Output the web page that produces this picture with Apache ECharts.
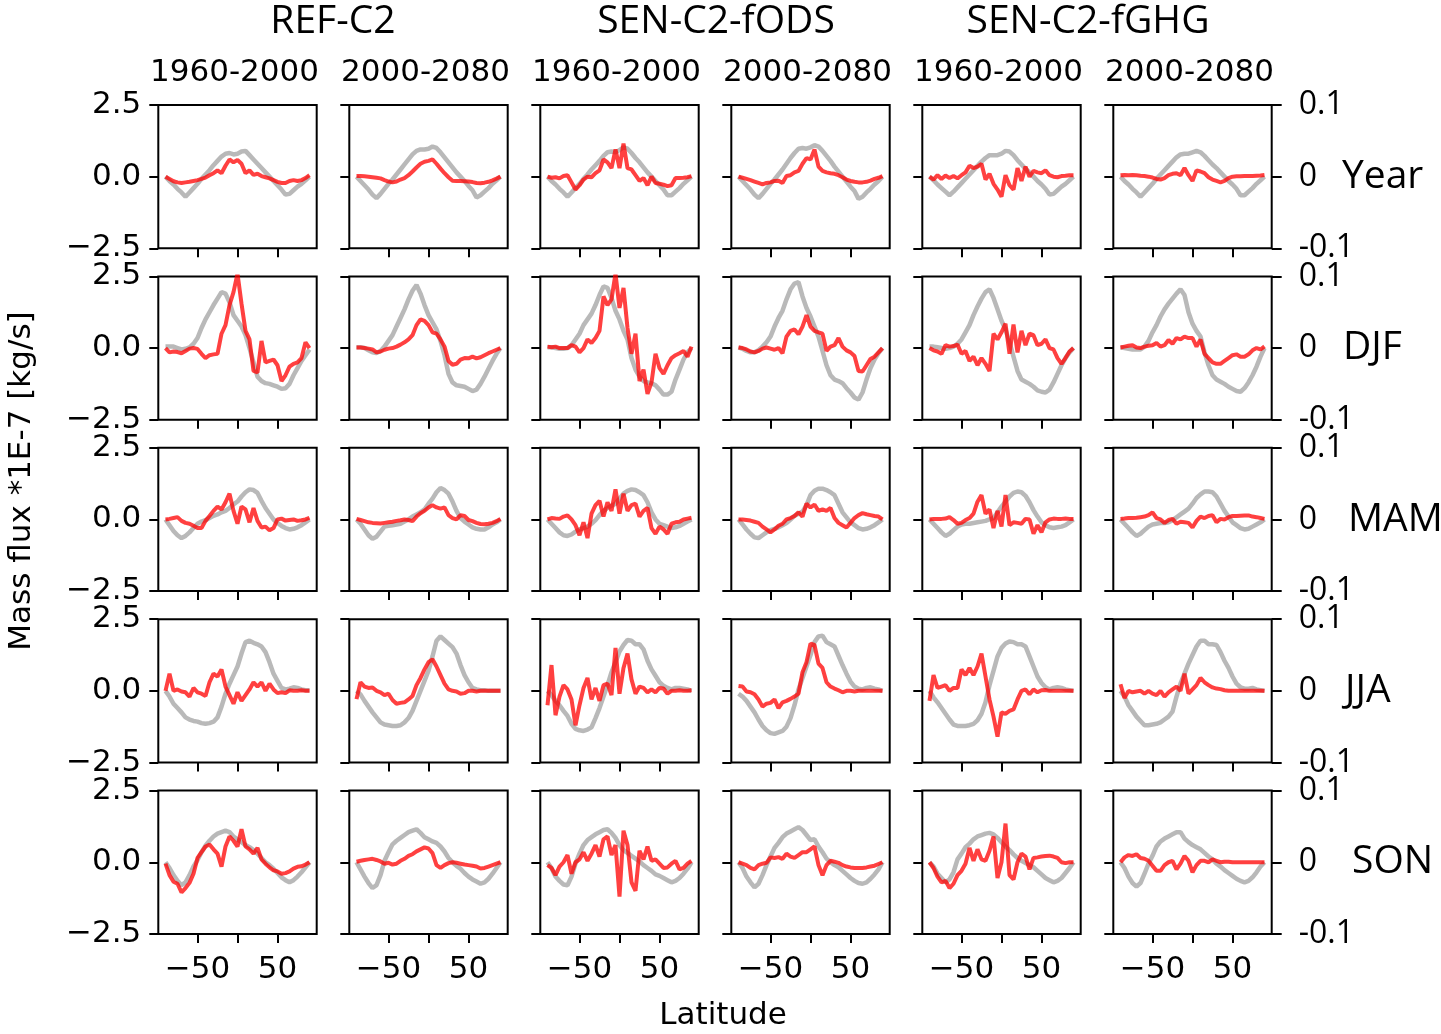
<!DOCTYPE html>
<html>
<head>
<meta charset="utf-8">
<title>Mass flux trends</title>
<script src="https://cdn.jsdelivr.net/npm/echarts@6.0.0/dist/echarts.min.js"></script>
<style>
  html, body { margin: 0; padding: 0; background: #fff; }
  #chart { width: 1441px; height: 1034px; }
</style>
</head>
<body>
<div id="chart"></div>
<script>
// latitude of each sample (deg)
const lats = [-90, -85, -80, -75, -70, -65, -60, -55, -50, -45, -40, -35, -30, -25, -20, -15, -10, -5, 0,
  5, 10, 15, 20, 25, 30, 35, 40, 45, 50, 55, 60, 65, 70, 75, 80, 85, 90]

const experiments = ['REF-C2', 'SEN-C2-fODS', 'SEN-C2-fGHG']
const periods = ['1960-2000', '2000-2080']
const seasons = ['Year', 'DJF', 'MAM', 'JJA', 'SON']
const leftTicks = [-2.5, 0, 2.5]
const rightTicks = [-0.1, 0, 0.1]
const latTicks = [-50, 0, 50]
const latLabels = [-50, 50]

// grey: climatology (right axis), red: trend (left axis); one array per column
const yearGray = [
  [0,-.006,-.011,-.017,-.022,-.028,-.022,-.016,-.010,-.003,.003,.009,.016,.022,.028,.032,.033,.031,.032,.035,.036,.030,.024,.018,.012,.006,0,-.006,-.012,-.018,-.025,-.024,-.019,-.014,-.010,-.005,0],
  [0,-.006,-.012,-.018,-.025,-.030,-.024,-.017,-.010,-.004,.003,.010,.017,.024,.031,.036,.038,.038,.039,.042,.040,.034,.027,.020,.013,.006,0,-.006,-.013,-.019,-.029,-.026,-.021,-.016,-.010,-.005,0],
  [0,-.006,-.011,-.017,-.022,-.028,-.022,-.016,-.010,-.003,.003,.010,.016,.022,.029,.034,.035,.034,.037,.041,.039,.033,.026,.020,.013,.006,0,-.006,-.012,-.018,-.026,-.026,-.021,-.016,-.010,-.005,0],
  [0,-.006,-.012,-.018,-.025,-.030,-.024,-.017,-.010,-.004,.003,.010,.018,.026,.033,.039,.040,.039,.041,.044,.042,.036,.029,.022,.014,.007,0,-.007,-.014,-.020,-.031,-.028,-.022,-.017,-.011,-.006,0],
  [0,-.005,-.011,-.016,-.021,-.026,-.021,-.015,-.009,-.003,.003,.009,.015,.021,.026,.030,.030,.030,.032,.036,.035,.030,.023,.017,.011,.006,0,-.006,-.011,-.017,-.025,-.024,-.019,-.014,-.010,-.005,0],
  [0,-.006,-.011,-.017,-.022,-.028,-.022,-.016,-.010,-.003,.003,.009,.015,.021,.027,.031,.032,.032,.034,.036,.034,.029,.023,.017,.012,.006,0,-.006,-.011,-.017,-.026,-.026,-.021,-.016,-.010,-.005,0]
]
const yearRed = [
  [0,-0.08,-0.16,-0.2,-0.22,-0.2,-0.18,-0.15,-0.12,-0.08,-0.03,0.05,0.12,0.22,0.12,0.38,0.6,0.5,0.58,0.45,0.12,0.22,0.06,0.1,0.02,-0.02,-0.06,-0.12,-0.18,-0.22,-0.22,-0.15,-0.12,-0.15,-0.12,-0.05,0.05],
  [0.02,0.02,0.01,0,-0.02,-0.04,-0.06,-0.12,-0.17,-0.2,-0.17,-0.1,-0.05,0.05,0.18,0.32,0.45,0.52,0.55,0.6,0.45,0.28,0.12,-0.02,-0.14,-0.15,-0.15,-0.16,-0.17,-0.19,-0.22,-0.23,-0.21,-0.18,-0.13,-0.07,0],
  [0,-0.04,-0.02,-0.06,0.02,0.05,-0.2,-0.45,-0.3,-0.1,0,-0.02,0.12,0.22,0.6,0.5,0.3,0.95,0.3,1.15,0.3,0.25,0.05,-0.15,-0.05,-0.3,0,-0.22,-0.25,-0.28,-0.33,-0.3,-0.05,-0.05,-0.04,-0.02,0.02],
  [0,-0.04,-0.08,-0.12,-0.17,-0.22,-0.27,-0.22,-0.2,-0.15,-0.14,-0.22,0.02,0.05,0.15,0.2,0.45,0.65,0.6,0.95,0.35,0.2,0.15,0.12,0.1,0.05,-0.02,-0.1,-0.15,-0.18,-0.2,-0.2,-0.18,-0.14,-0.08,-0.04,0.02],
  [0,-0.1,0.05,-0.08,0.04,-0.05,0.02,-0.06,0.05,0.15,0.38,0.3,0.35,0.45,-0.1,0.1,-0.25,-0.45,-0.7,0.05,-0.3,-0.45,0.3,-0.15,0.35,0,0.2,0.15,0.12,0.22,0.05,0,-0.02,0.02,0.03,0.05,0.05],
  [0.05,0.06,0.05,0.06,0.05,0.03,0.02,0,-0.03,-0.08,-0.1,-0.05,0.05,0.1,0.12,0.05,0.3,0.05,-0.15,0.22,0.18,0.12,-0.02,-0.1,-0.15,-0.2,-0.15,-0.05,0,0.01,0.01,0.02,0.02,0.02,0.03,0.04,0.06]
]

const djfGray = [
  [.002,.002,.002,0,-.002,-.001,.001,.006,.014,.028,.040,.050,.060,.069,.078,.076,.064,.046,.038,.030,.018,0,-.020,-.040,-.046,-.049,-.050,-.052,-.054,-.057,-.056,-.050,-.038,-.028,-.018,-.010,-.002],
  [.001,.001,0,-.003,-.006,-.007,-.004,.002,.010,.018,.030,.042,.054,.068,.080,.088,.076,.060,.046,.036,.026,.010,-.010,-.036,-.048,-.052,-.053,-.054,-.057,-.060,-.058,-.050,-.040,-.029,-.018,-.008,0],
  [.001,.001,0,-.001,-.001,0,.004,.012,.020,.032,.040,.048,.060,.074,.086,.084,.070,.052,.040,.024,.012,-.014,-.030,-.040,-.046,-.048,-.049,-.052,-.058,-.065,-.065,-.061,-.044,-.030,-.016,-.006,0],
  [.001,-.001,-.004,-.006,-.006,-.003,.002,.008,.016,.030,.042,.052,.068,.082,.090,.092,.072,.056,.044,.030,.016,-.004,-.024,-.038,-.044,-.046,-.049,-.056,-.062,-.069,-.072,-.062,-.044,-.028,-.016,-.007,0],
  [.002,.002,.001,0,-.001,0,.002,.006,.012,.022,.032,.046,.058,.069,.078,.082,.070,.054,.038,.026,.008,-.012,-.032,-.044,-.047,-.050,-.054,-.059,-.061,-.062,-.058,-.048,-.036,-.024,-.014,-.006,0],
  [.001,0,-.001,-.002,-.002,-.002,.002,.010,.022,.032,.044,.054,.062,.069,.076,.082,.074,.050,.034,.024,.016,-.006,-.024,-.038,-.044,-.047,-.050,-.054,-.057,-.060,-.061,-.056,-.048,-.038,-.026,-.012,0]
]
const djfRed = [
  [0,-0.15,-0.12,-0.14,-0.18,-0.1,-0.02,0,-0.03,-0.2,-0.35,-0.25,-0.22,-0.2,0.5,0.8,1.5,1.95,2.6,1.55,0.6,0.3,-0.8,-0.85,0.25,-0.5,-0.45,-0.4,-0.6,-1.15,-0.95,-0.65,-0.55,-0.5,-0.35,0.2,0],
  [0.02,0.02,0,-0.02,-0.05,-0.15,-0.12,-0.06,-0.02,0,0.05,0.12,0.2,0.3,0.45,0.8,1.0,0.95,0.8,0.55,0.5,0.3,0.05,-0.45,-0.58,-0.55,-0.4,-0.35,-0.36,-0.3,-0.36,-0.32,-0.25,-0.18,-0.12,-0.06,0],
  [0.05,0.03,0.05,0,0,0,0.1,0.05,-0.15,0,0.3,0.18,0.35,0.6,1.8,1.5,1.7,2.6,1.4,2.1,0.7,-0.2,0.5,-1.15,-0.75,-1.6,-1.2,-0.2,-0.7,-0.9,-0.6,-0.35,-0.25,-0.18,-0.1,-0.3,0.05],
  [0.02,0,-0.05,-0.12,-0.15,-0.1,-0.02,0.02,-0.02,-0.06,0,-0.18,0.4,0.6,0.65,0.48,0.75,1.15,0.75,0.6,0.55,0.5,-0.1,0.05,0.1,0.35,0.05,-0.08,-0.15,-0.28,-0.8,-0.82,-0.6,-0.38,-0.3,-0.15,0],
  [0,-0.08,-0.12,-0.2,0.1,0.05,0.07,0.12,-0.2,-0.1,-0.45,-0.3,-0.6,-0.35,-0.55,-0.8,0.5,0.3,0.55,0.85,-0.2,0.82,-0.15,0.6,0.1,0.5,0.45,0.1,0.15,0.3,0,-0.05,-0.35,-0.55,-0.35,-0.12,0],
  [0.02,0.05,0.08,0.1,0.02,0,0.05,0.08,0.1,0.18,0.05,0.1,0.28,0.15,0.35,0.3,0.4,0.35,0.35,0.05,0.3,-0.2,-0.35,-0.5,-0.55,-0.55,-0.45,-0.35,-0.25,-0.22,-0.3,-0.3,-0.22,-0.08,0,-0.05,0.06]
]

const mamGray = [
  [0,-.008,-.016,-.022,-.026,-.023,-.018,-.012,-.006,-.003,-.001,.002,.005,.007,.010,.012,.016,.021,.025,.032,.038,.042,.041,.037,.026,.016,.008,0,-.005,-.009,-.012,-.014,-.013,-.011,-.008,-.004,0],
  [0,-.006,-.014,-.022,-.027,-.024,-.017,-.010,-.009,-.008,-.007,-.006,-.003,0,.004,.007,.010,.014,.022,.029,.038,.044,.041,.036,.025,.012,.002,-.003,-.007,-.011,-.013,-.014,-.014,-.011,-.007,-.004,0],
  [0,-.006,-.012,-.018,-.022,-.023,-.021,-.017,-.014,-.012,-.010,-.006,-.001,.006,.012,.016,.019,.022,.029,.036,.040,.042,.041,.038,.034,.024,.010,0,-.006,-.008,-.010,-.012,-.011,-.009,-.006,-.003,0],
  [0,-.007,-.014,-.020,-.025,-.026,-.022,-.018,-.015,-.013,-.011,-.008,-.005,0,.005,.008,.011,.020,.034,.040,.043,.043,.041,.038,.034,.022,.010,.003,-.004,-.008,-.012,-.014,-.013,-.011,-.008,-.004,0],
  [0,-.006,-.012,-.018,-.023,-.020,-.015,-.010,-.007,-.006,-.006,-.005,-.004,-.003,-.002,0,.002,.010,.018,.025,.032,.037,.039,.038,.033,.024,.013,.004,-.004,-.008,-.011,-.012,-.011,-.010,-.008,-.004,0],
  [0,-.006,-.012,-.018,-.023,-.020,-.015,-.010,-.007,-.006,-.005,-.005,-.004,-.001,.003,.007,.011,.015,.022,.030,.035,.039,.039,.038,.032,.022,.012,.004,-.004,-.008,-.012,-.014,-.013,-.010,-.007,-.004,0]
]
const mamRed = [
  [0,0.02,0.05,0.08,-0.05,-0.12,-0.15,-0.22,-0.3,-0.3,-0.05,0.12,0.3,0.45,0.35,0.6,0.9,0.3,-0.15,0.45,0.35,-0.1,0.4,-0.05,-0.28,-0.25,-0.38,-0.3,0,0.03,-0.04,-0.02,0,-0.05,-0.03,0,0.06],
  [0.02,-0.02,-0.06,-0.1,-0.12,-0.13,-0.14,-0.12,-0.1,-0.08,-0.05,-0.03,0,-0.02,-0.06,0.1,0.22,0.3,0.42,0.5,0.42,0.38,0.42,0.15,0.05,0,0.15,0.12,-0.02,-0.06,-0.12,-0.16,-0.17,-0.15,-0.12,-0.06,0.02],
  [0,0.05,0.03,0.02,0.1,0.14,0,-0.2,-0.55,-0.1,-0.65,0.2,0.5,0.65,0.1,0.6,0.3,1.05,0.2,0.9,0.3,0.5,0.55,0.1,0.3,0.4,-0.3,-0.5,-0.25,-0.35,-0.5,-0.15,-0.1,-0.08,0,0.03,0.06],
  [0,0,-0.02,-0.04,-0.08,-0.12,-0.25,-0.35,-0.45,-0.35,-0.22,-0.15,0,0.05,0.12,0.25,0.1,0.55,0.42,0.52,0.3,0.35,0.3,0.4,0.05,-0.12,-0.2,-0.28,-0.12,0.05,0.15,0.22,0.18,0.15,0.12,0.1,0],
  [0,0.02,0.02,0.02,0.03,0.08,-0.02,-0.15,-0.12,-0.02,0.05,0.2,0.62,0.85,0.2,0.35,-0.3,0.3,-0.25,0.85,-0.2,-0.1,-0.12,-0.15,0.02,0,-0.5,-0.2,-0.45,-0.1,0,0.03,0.02,0.02,0.03,0.02,0.02],
  [0.02,0.03,0.05,0.05,0.06,0.08,0.1,0.15,0.25,0.05,0,-0.12,-0.02,0.02,-0.15,-0.08,-0.1,-0.12,-0.28,-0.05,0.1,0.05,0.12,0.15,-0.1,0.02,0,0.08,0.12,0.12,0.13,0.14,0.14,0.1,0.08,0.05,0.02]
]

const jjaGray = [
  [0,-.008,-.018,-.024,-.030,-.037,-.040,-.042,-.043,-.045,-.046,-.045,-.043,-.037,-.022,-.004,.010,.022,.034,.052,.068,.070,.067,.065,.062,.054,.040,.024,.014,.004,.002,.003,.005,.004,.002,.001,.001],
  [0,-.005,-.014,-.022,-.030,-.037,-.044,-.047,-.048,-.049,-.049,-.048,-.044,-.038,-.028,-.014,0,.014,.028,.048,.070,.076,.071,.066,.061,.052,.036,.022,.012,.004,.002,.001,.001,0,0,0,0],
  [0,-.006,-.014,-.020,-.028,-.035,-.046,-.053,-.055,-.056,-.054,-.051,-.038,-.024,-.008,.008,.026,.040,.055,.064,.071,.070,.065,.065,.058,.042,.030,.021,.012,.007,.004,.002,.004,.004,.003,.002,0],
  [-.004,-.008,-.014,-.022,-.030,-.040,-.049,-.055,-.059,-.060,-.058,-.056,-.050,-.038,-.020,.002,.018,.034,.050,.068,.076,.077,.068,.065,.062,.049,.036,.024,.013,.006,.003,.002,.004,.005,.003,.002,0],
  [0,-.009,-.016,-.024,-.032,-.040,-.047,-.049,-.049,-.049,-.048,-.046,-.041,-.032,-.016,.008,.028,.048,.060,.066,.069,.068,.065,.065,.062,.048,.034,.020,.011,.005,.002,.004,.005,.004,.002,.001,0],
  [0,-.008,-.020,-.028,-.036,-.042,-.048,-.048,-.047,-.046,-.044,-.040,-.036,-.029,-.008,.010,.024,.038,.050,.062,.070,.070,.065,.065,.064,.054,.042,.032,.020,.010,.005,.003,.003,.004,.002,.001,0]
]
const jjaRed = [
  [0,0.6,0,0.05,-0.02,-0.05,-0.2,0.1,-0.05,-0.1,-0.18,0.3,0.6,0.5,0.75,0.15,-0.15,-0.45,-0.05,-0.35,-0.15,0.05,0.3,0.15,0.3,0,0.25,0.05,-0.08,-0.05,-0.08,0.02,0,0,0.02,0,0],
  [-0.29,0.3,0.15,0.1,0.12,0,-0.05,-0.15,-0.1,-0.32,-0.45,-0.42,-0.4,-0.3,-0.18,0.2,0.45,0.75,1.0,1.1,0.85,0.55,0.25,0.05,0,-0.02,-0.1,-0.08,0,0,-0.02,0,0,0,0,0,0],
  [-0.5,0.9,-0.85,-0.2,0.2,0.05,-0.3,-1.2,-0.5,0.1,0.45,-0.3,0.1,-0.35,0.2,0.25,-0.15,1.5,-0.1,0.8,1.3,0.4,-0.1,0.15,0.1,-0.05,0.05,-0.05,0.1,0.08,-0.1,0,0,0.02,0,0,0.02],
  [0.17,0.15,-0.02,-0.05,-0.12,-0.3,-0.55,-0.45,-0.42,-0.3,-0.6,-0.4,-0.35,-0.28,-0.2,-0.1,0.65,1.0,1.65,1.6,0.95,0.8,0.3,0.15,0.08,0.02,-0.05,0,0,-0.02,0,0,0,0,0,0,0],
  [-0.35,0.55,0.1,0.15,0.2,0,0.1,0.1,0.75,0.55,0.8,0.55,0.85,1.3,0.5,-0.3,-0.9,-1.6,-0.75,-0.8,-0.7,-0.65,-0.3,0,0.05,-0.12,0.05,-0.05,0.02,0.03,0,0,0,0,0,0,0],
  [0.23,-0.25,0,-0.05,-0.02,0,-0.1,0,-0.1,-0.15,0,-0.2,-0.05,0.05,0.15,0,0.6,-0.1,0.05,0.2,0.45,0.3,0.2,0.12,0.08,0.06,0.02,0,0,0,0,0,0,0,0,0,0]
]

const sonGray = [
  [0,-.008,-.018,-.026,-.032,-.028,-.018,-.006,.003,.014,.023,.030,.036,.040,.042,.044,.042,.036,.032,.028,.024,.021,.017,.012,.006,0,-.004,-.009,-.015,-.021,-.025,-.028,-.025,-.020,-.014,-.007,0],
  [0,-.010,-.020,-.029,-.036,-.032,-.018,.002,.014,.025,.030,.034,.038,.042,.044,.046,.041,.035,.032,.029,.027,.022,.015,.006,0,-.005,-.009,-.015,-.020,-.024,-.027,-.030,-.028,-.023,-.016,-.008,0],
  [0,-.008,-.020,-.026,-.031,-.032,-.020,-.002,.012,.024,.031,.035,.039,.042,.045,.046,.041,.034,.024,.017,.013,.009,.005,.001,-.004,-.008,-.012,-.017,-.019,-.022,-.025,-.028,-.026,-.022,-.016,-.009,0],
  [0,-.008,-.020,-.028,-.035,-.030,-.018,-.004,.008,.020,.027,.035,.040,.043,.046,.049,.045,.038,.031,.032,.022,.014,.005,0,-.004,-.007,-.012,-.017,-.022,-.026,-.029,-.030,-.028,-.023,-.017,-.010,0],
  [0,-.006,-.016,-.022,-.028,-.024,-.014,.004,.012,.021,.026,.032,.036,.038,.040,.041,.039,.034,.028,.022,.017,.011,.006,.002,-.001,-.004,-.007,-.012,-.017,-.022,-.025,-.028,-.026,-.022,-.015,-.008,0],
  [0,-.008,-.020,-.029,-.034,-.029,-.016,-.002,.009,.022,.029,.033,.036,.039,.042,.042,.033,.028,.024,.021,.018,.013,.008,.004,-.002,-.006,-.011,-.015,-.019,-.023,-.026,-.028,-.026,-.021,-.014,-.006,0]
]
const sonRed = [
  [-0.05,-0.45,-0.68,-0.75,-1.05,-0.9,-0.72,-0.4,0.15,0.35,0.55,0.62,0.45,0.3,-0.15,0.55,0.9,0.75,0.55,1.15,0.55,0.45,0.3,0.5,0.1,-0.05,-0.18,-0.28,-0.32,-0.4,-0.38,-0.32,-0.22,-0.16,-0.14,-0.08,0],
  [0.02,0.05,0.08,0.1,0.12,0.08,0.03,-0.05,-0.02,-0.08,-0.05,0.05,0.12,0.22,0.28,0.38,0.45,0.52,0.48,0.32,-0.1,-0.2,-0.1,-0.03,0,-0.02,-0.05,-0.08,-0.1,-0.12,-0.15,-0.22,-0.2,-0.15,-0.1,-0.05,0],
  [-0.1,-0.2,-0.45,-0.15,0,0.25,-0.4,0,0.1,0.35,0.05,0.3,0.6,0.2,0.8,0.9,0.25,0.6,-1.2,1.1,0.6,-0.7,-1.0,0.4,0.1,0.55,0.05,0.1,-0.05,-0.2,-0.18,-0.05,0.05,-0.25,-0.2,-0.05,0.05],
  [0,-0.05,-0.1,-0.2,-0.25,-0.1,-0.05,-0.02,0.17,0.15,0.18,0.12,0.3,0.2,0.15,0.25,0.35,0.35,0.45,0.55,-0.1,-0.45,-0.1,0.05,0.02,-0.02,-0.1,-0.15,-0.18,-0.2,-0.2,-0.2,-0.18,-0.15,-0.12,-0.06,0],
  [0,-0.2,-0.5,-0.7,-0.65,-0.9,-0.75,-0.45,-0.3,-0.05,0.5,0.05,0.45,0.1,0.05,0.4,0.9,-0.55,0,1.35,-0.45,-0.6,0,0.3,0.2,-0.25,0.15,0.17,0.2,0.22,0.23,0.2,0.15,0,-0.03,0,0],
  [0,0.17,0.25,0.22,0.28,0.15,0.12,0.05,-0.12,-0.3,-0.3,-0.1,0,0.05,-0.25,-0.05,0.22,0.05,-0.35,-0.1,0.05,0.05,0,0.1,0.05,0,0.02,0.02,0,0,0,0,0,0,0,0,0]
]

const grayRows = [yearGray, djfGray, mamGray, jjaGray, sonGray]
const redRows = [yearRed, djfRed, mamRed, jjaRed, sonRed]

const chart = echarts.init(document.getElementById('chart'))

// panel layout (px)
const panelLeft = 158.3
const panelStep = 191
const panelW = 158.4
const rowTop = 105
const rowStep = 171.4
const panelH = 143.3

const mplFont = 'DejaVu Sans'
const annFont = 'Open Sans'

const minus = v => (v < 0 ? '\u2212' : '') + Math.abs(v)

const toPairs = (vals, name) => {
  if (vals.length !== lats.length) throw new Error(name + ' has ' + vals.length + ' values')
  return lats.map((lat, i) => [lat, vals[i]])
}

const grids = []
const xAxes = []
const yAxes = []
const series = []

seasons.forEach((season, r) => {
  for (let c = 0; c < 6; c++) {
    const gi = r * 6 + c
    grids.push({
      left: panelLeft + panelStep * c,
      top: rowTop + rowStep * r,
      width: panelW,
      height: panelH,
      show: true,
      borderColor: '#000',
      borderWidth: 2,
      backgroundColor: '#fff'
    })
    xAxes.push({
      type: 'value',
      gridIndex: gi,
      position: 'bottom',
      min: -99,
      max: 99,
      axisLine: { show: false, onZero: false },
      splitLine: { show: false },
      axisTick: { show: true, customValues: latTicks, length: 9, lineStyle: { color: '#000', width: 2 } },
      axisLabel: {
        show: r === 4,
        customValues: latLabels,
        formatter: minus,
        fontFamily: mplFont,
        fontSize: 31,
        color: '#000',
        margin: 21
      }
    })
    yAxes.push({
      type: 'value',
      gridIndex: gi,
      position: 'left',
      min: leftTicks[0],
      max: leftTicks[2],
      interval: 2.5,
      axisLine: { show: false, onZero: false },
      splitLine: { show: false },
      axisTick: { show: true, length: 9, lineStyle: { color: '#000', width: 2 } },
      axisLabel: {
        show: c === 0,
        formatter: v => (v === 0 ? '0.0' : (v < 0 ? '\u2212' : '') + Math.abs(v).toFixed(1)),
        fontFamily: mplFont,
        fontSize: 31,
        color: '#000',
        margin: 17
      }
    })
    yAxes.push({
      type: 'value',
      gridIndex: gi,
      position: 'right',
      min: rightTicks[0],
      max: rightTicks[2],
      interval: 0.1,
      show: c === 5,
      axisLine: { show: false, onZero: false },
      splitLine: { show: false },
      axisTick: { show: true, length: 10, lineStyle: { color: '#000', width: 2 } },
      axisLabel: {
        formatter: v => (Math.abs(v) < 1e-9 ? '0' : (v < 0 ? '-' : '') + Math.abs(v).toFixed(1)),
        fontFamily: annFont,
        fontSize: 32,
        color: '#000',
        margin: 27
      }
    })
    series.push({
      type: 'line',
      xAxisIndex: gi,
      yAxisIndex: gi * 2 + 1,
      data: toPairs(grayRows[r][c], season + ' gray ' + c),
      symbol: 'none',
      silent: true,
      lineStyle: { color: '#808080', width: 4.5, opacity: 0.55 }
    })
    series.push({
      type: 'line',
      xAxisIndex: gi,
      yAxisIndex: gi * 2,
      data: toPairs(redRows[r][c], season + ' red ' + c),
      symbol: 'none',
      silent: true,
      lineStyle: { color: '#ff0000', width: 4, opacity: 0.75 }
    })
  }
})

// texts around the panels
const texts = []
const expX = [333, 716, 1088]
experiments.forEach((name, i) => {
  texts.push({
    type: 'text', x: expX[i], y: 22,
    style: { text: name, font: '39px "' + annFont + '"', fill: '#000', textAlign: 'center', textVerticalAlign: 'middle' }
  })
})
for (let c = 0; c < 6; c++) {
  texts.push({
    type: 'text', x: panelLeft + panelStep * c + panelW / 2 - 3, y: 73,
    style: { text: periods[c % 2], font: '31px "' + mplFont + '"', fill: '#000', textAlign: 'center', textVerticalAlign: 'middle' }
  })
}
const seasonX = [1342, 1343, 1348, 1345, 1352]
seasons.forEach((s, r) => {
  texts.push({
    type: 'text', x: seasonX[r], y: rowTop + rowStep * r + panelH / 2,
    style: { text: s, font: '39px "' + annFont + '"', fill: '#000', textAlign: 'left', textVerticalAlign: 'middle' }
  })
})
texts.push({
  type: 'text', x: 22, y: 481, rotation: Math.PI / 2,
  style: { text: 'Mass flux *1E-7 [kg/s]', font: '31px "' + mplFont + '"', fill: '#000', textAlign: 'center', textVerticalAlign: 'middle' }
})
texts.push({
  type: 'text', x: 723, y: 1016,
  style: { text: 'Latitude', font: '31px "' + mplFont + '"', fill: '#000', textAlign: 'center', textVerticalAlign: 'middle' }
})

chart.setOption({
  backgroundColor: '#fff',
  animation: false,
  grid: grids,
  xAxis: xAxes,
  yAxis: yAxes,
  series: series,
  graphic: texts
})
</script>
</body>
</html>
